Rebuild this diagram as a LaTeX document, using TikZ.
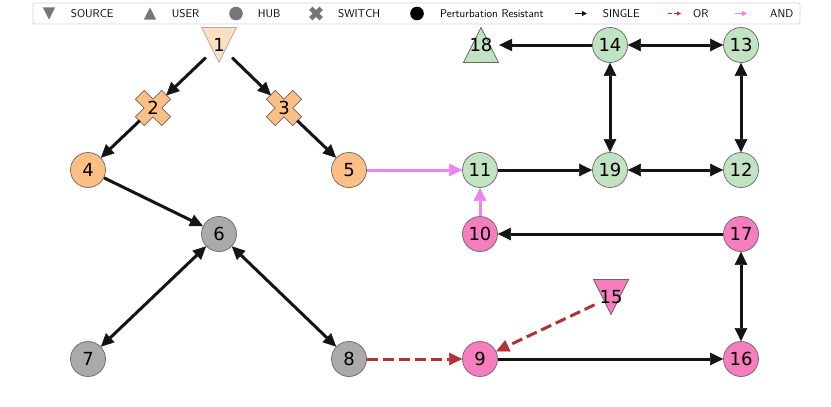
\documentclass[tikz,border=0pt]{standalone}
\usepackage{fontspec}
\newfontfamily\labelfont{DejaVu Sans}
\usetikzlibrary{arrows.meta}

\definecolor{hubGray}{RGB}{170,170,170}
\definecolor{swOrange}{RGB}{253,191,134}
\definecolor{resGreen}{RGB}{193,227,193}
\definecolor{netPink}{RGB}{246,126,190}
\definecolor{orRed}{RGB}{176,52,52}
\definecolor{andViolet}{RGB}{238,130,238}
\definecolor{legGray}{RGB}{118,118,118}
\definecolor{legLine}{RGB}{212,212,212}

\tikzset{
    srcmark/.pic = {\path[pic actions] (-17.5,-17.5) -- (17.5,-17.5) -- (0,17.5) -- cycle;},
    usermark/.pic = {\path[pic actions] (-17.5,17.5) -- (17.5,17.5) -- (0,-17.5) -- cycle;},
    switchmark/.pic = {\path[pic actions,rotate=45] (-6.2,-18.6) -- (6.2,-18.6) -- (6.2,-6.2)
        -- (18.6,-6.2) -- (18.6,6.2) -- (6.2,6.2) -- (6.2,18.6) -- (-6.2,18.6)
        -- (-6.2,6.2) -- (-18.6,6.2) -- (-18.6,-6.2) -- (-6.2,-6.2) -- cycle;}
}

\begin{document}
\begin{tikzpicture}[x=1pt, y=-1pt,
    vertex/.style = {circle,
        minimum size = 36pt,
        inner sep = 0pt,
        font = \labelfont\fontsize{18}{20}\selectfont},
    hub/.style = {vertex, minimum size = 35pt, draw=black!60, line width=0.7pt},
    markline/.style = {draw=black!60, line width=0.7pt},
    single/.style = {line width=3pt, draw=black!92,
        -{Triangle[length=13pt,width=12.5pt,line width=0.5pt]}},
    both/.style = {single,
        {Triangle[length=13pt,width=12.5pt,line width=0.5pt]}-{Triangle[length=13pt,width=12.5pt,line width=0.5pt]}},
    orarc/.style = {single, draw=orRed, dash pattern=on 11pt off 5pt},
    andarc/.style = {single, draw=andViolet},
    legtext/.style = {anchor=base west, inner sep=0pt,
        font = \sffamily\fontsize{11.3}{12}\selectfont}]

\useasboundingbox (0,0) rectangle (831,407);

% Legend
\draw[legLine, fill=white, rounded corners=2pt, line width=0.8pt] (33,3) rectangle (800,24);
\pic[scale=0.35, fill=legGray] at (49,13.5) {srcmark};
\node[legtext] (lsource) at (70.7,17.8) {SOURCE};
\pic[scale=0.35, fill=legGray] at (150,13.5) {usermark};
\node[legtext] (luser) at (171.7,17.8) {USER};
\fill[legGray] (236,13.5) circle (6.8);
\node[legtext] (lhub) at (257.7,17.8) {HUB};
\pic[scale=0.39, fill=legGray] at (316,13.5) {switchmark};
\node[legtext] (lswitch) at (338,17.8) {SWITCH};
\fill[black] (417,13.5) circle (6.8);
\node[legtext] (lres) at (440,17.8) {Perturbation Resistant};
\draw[single, line width=1.3pt, -{Triangle[length=5pt,width=5pt]}] (575,13.5) -- (587,13.5);
\node[legtext] (lsingle) at (602.7,17.8) {SINGLE};
\draw[orarc, line width=1.3pt, dash pattern=on 3.5pt off 2pt, -{Triangle[length=4pt,width=4pt]}] (668,13.5) -- (681,13.5);
\node[legtext] (lor) at (693,17.8) {OR};
\draw[andarc, line width=1.3pt, -{Triangle[length=5pt,width=5pt]}] (735,13.5) -- (747,13.5);
\node[legtext] (land) at (770,17.8) {AND};

% Sources
\pic[fill=swOrange, markline, opacity=0.5] at (219,45) {srcmark};
\node[vertex] (n1) at (219,45) {1};
\pic[fill=netPink, markline] at (611,297) {srcmark};
\node[vertex] (n15) at (611,297) {15};

% User
\pic[fill=resGreen, markline] at (481,45) {usermark};
\node[vertex] (n18) at (481,45) {18};

% Switches
\pic[fill=swOrange, markline] at (153,108) {switchmark};
\node[vertex] (n2) at (153,108) {2};
\pic[fill=swOrange, markline] at (284,108) {switchmark};
\node[vertex] (n3) at (284,108) {3};

% Hubs
\node[hub, fill=swOrange] (n4) at (88,170) {4};
\node[hub, fill=swOrange] (n5) at (349,170) {5};
\node[hub, fill=hubGray] (n6) at (219,234) {6};
\node[hub, fill=hubGray] (n7) at (88,359) {7};
\node[hub, fill=hubGray] (n8) at (349,359) {8};
\node[hub, fill=netPink] (n9) at (480,359) {9};
\node[hub, fill=netPink] (n10) at (480,234) {10};
\node[hub, fill=resGreen] (n11) at (480,170) {11};
\node[hub, fill=resGreen] (n12) at (741,170) {12};
\node[hub, fill=resGreen] (n13) at (741,45) {13};
\node[hub, fill=resGreen] (n14) at (610,45) {14};
\node[hub, fill=netPink] (n16) at (741,359) {16};
\node[hub, fill=netPink] (n17) at (741,234) {17};
\node[hub, fill=resGreen] (n19) at (610,170) {19};

% Edges
\draw[single] (n1) -- (n2);
\draw[single] (n1) -- (n3);
\draw[single] (n2) -- (n4);
\draw[single] (n3) -- (n5);
\draw[single] (n4) -- (n6);
\draw[both] (n6) -- (n7);
\draw[both] (n6) -- (n8);
\draw[orarc] (n8) -- (n9);
\draw[orarc] (n15) -- (n9);
\draw[single] (n9) -- (n16);
\draw[both] (n17) -- (n16);
\draw[single] (n17) -- (n10);
\draw[andarc] (n10) -- (n11);
\draw[andarc] (n5) -- (n11);
\draw[single] (n11) -- (n19);
\draw[both] (n19) -- (n12);
\draw[both] (n12) -- (n13);
\draw[both] (n14) -- (n13);
\draw[both] (n14) -- (n19);
\draw[single] (n14) -- (n18);
\end{tikzpicture}
\end{document}
